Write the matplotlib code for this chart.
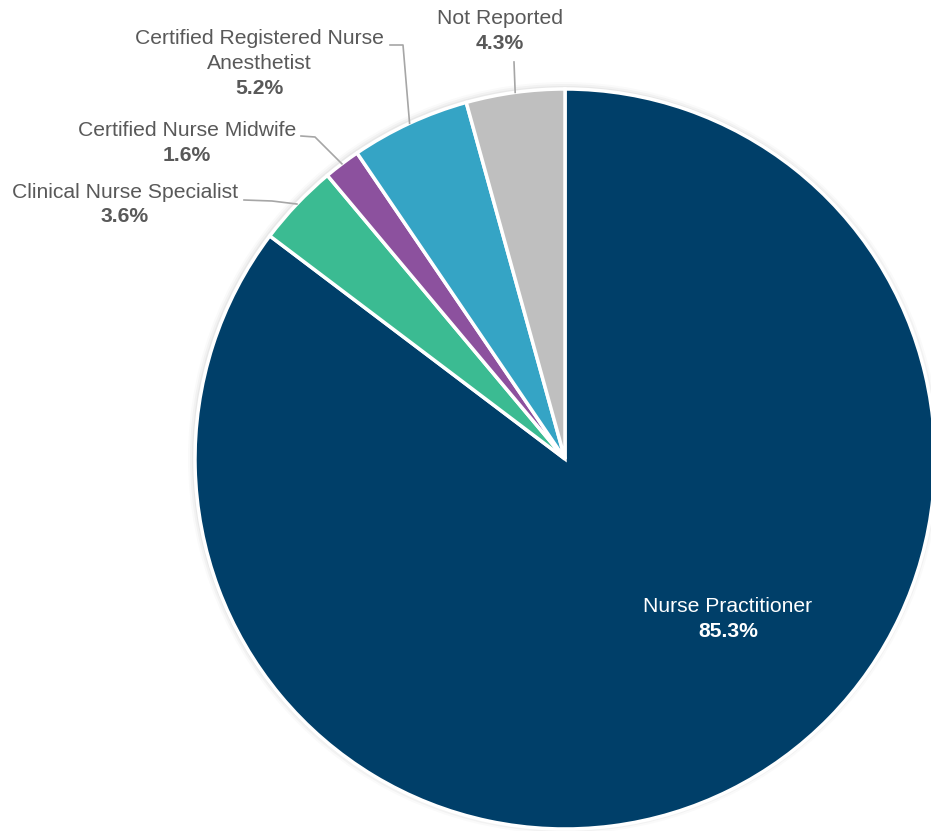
import matplotlib.pyplot as plt
import numpy as np

categories = ['Nurse Practitioner', 'Clinical Nurse Specialist', 'Certified Nurse Midwife',
              'Certified Registered Nurse\nAnesthetist', 'Not Reported']
shares = [85.3, 3.6, 1.6, 5.2, 4.3]
colors = ['#003F69', '#3BBB92', '#8C519E', '#35A4C5', '#BFBFBF']

plt.rcParams['font.family'] = ['Liberation Sans', 'DejaVu Sans']

W, H = 931, 831
fig = plt.figure(figsize=(W / 100, H / 100), dpi=100)
ax = fig.add_axes([0, 0, 1, 1])

cx, cy, r = 565, H - 459, 370

# faint shadow behind the pie
for k, a in enumerate([0.04, 0.03, 0.02]):
    ax.add_patch(plt.Circle((cx - 1, cy + 1), r + 2 + 2 * k, color='black', alpha=a, lw=0, zorder=0))

wedges, _ = ax.pie(shares, colors=colors, startangle=90, counterclock=False,
                   center=(cx, cy), radius=r,
                   wedgeprops=dict(edgecolor='white', linewidth=2.5))
ax.set_xlim(0, W)
ax.set_ylim(0, H)
ax.set_aspect('equal')
ax.axis('off')

grey = '#595959'
line_c = '#A6A6A6'
fs = 15.2
step = 24.5


def edge_point(w):
    mid = np.deg2rad((w.theta1 + w.theta2) / 2)
    return cx + r * np.cos(mid), cy + r * np.sin(mid)


def label(x, y, name, pct, color=grey):
    lines = name.split('\n')
    for i, s in enumerate(lines):
        ax.text(x, H - y - step * i, s, ha='center', va='center', fontsize=fs, color=color)
    ax.text(x, H - y - step * len(lines), f'{pct:.1f}%', ha='center', va='center',
            fontsize=fs, color=color, fontweight='bold')


# Nurse Practitioner (inside)
label(728, 607, categories[0], shares[0], color='white')

# Clinical Nurse Specialist
label(125, 192, categories[1], shares[1])
ex, ey = edge_point(wedges[1])
ax.plot([244, 272, ex], [H - 200, H - 201, ey], color=line_c, lw=1.2)

# Certified Nurse Midwife
label(187, 131, categories[2], shares[2])
ex, ey = edge_point(wedges[2])
ax.plot([301, 315, ex], [H - 136, H - 137, ey], color=line_c, lw=1.2)

# CRNA
label(259, 39, categories[3], shares[3])
ex, ey = edge_point(wedges[3])
ax.plot([390, 403, ex], [H - 45, H - 45, ey], color=line_c, lw=1.2)

# Not Reported
label(500, 19, categories[4], shares[4])
ex, ey = edge_point(wedges[4])
ax.plot([514, ex], [H - 62, ey], color=line_c, lw=1.2)

fig.savefig('out.png', dpi=100, facecolor='white')
